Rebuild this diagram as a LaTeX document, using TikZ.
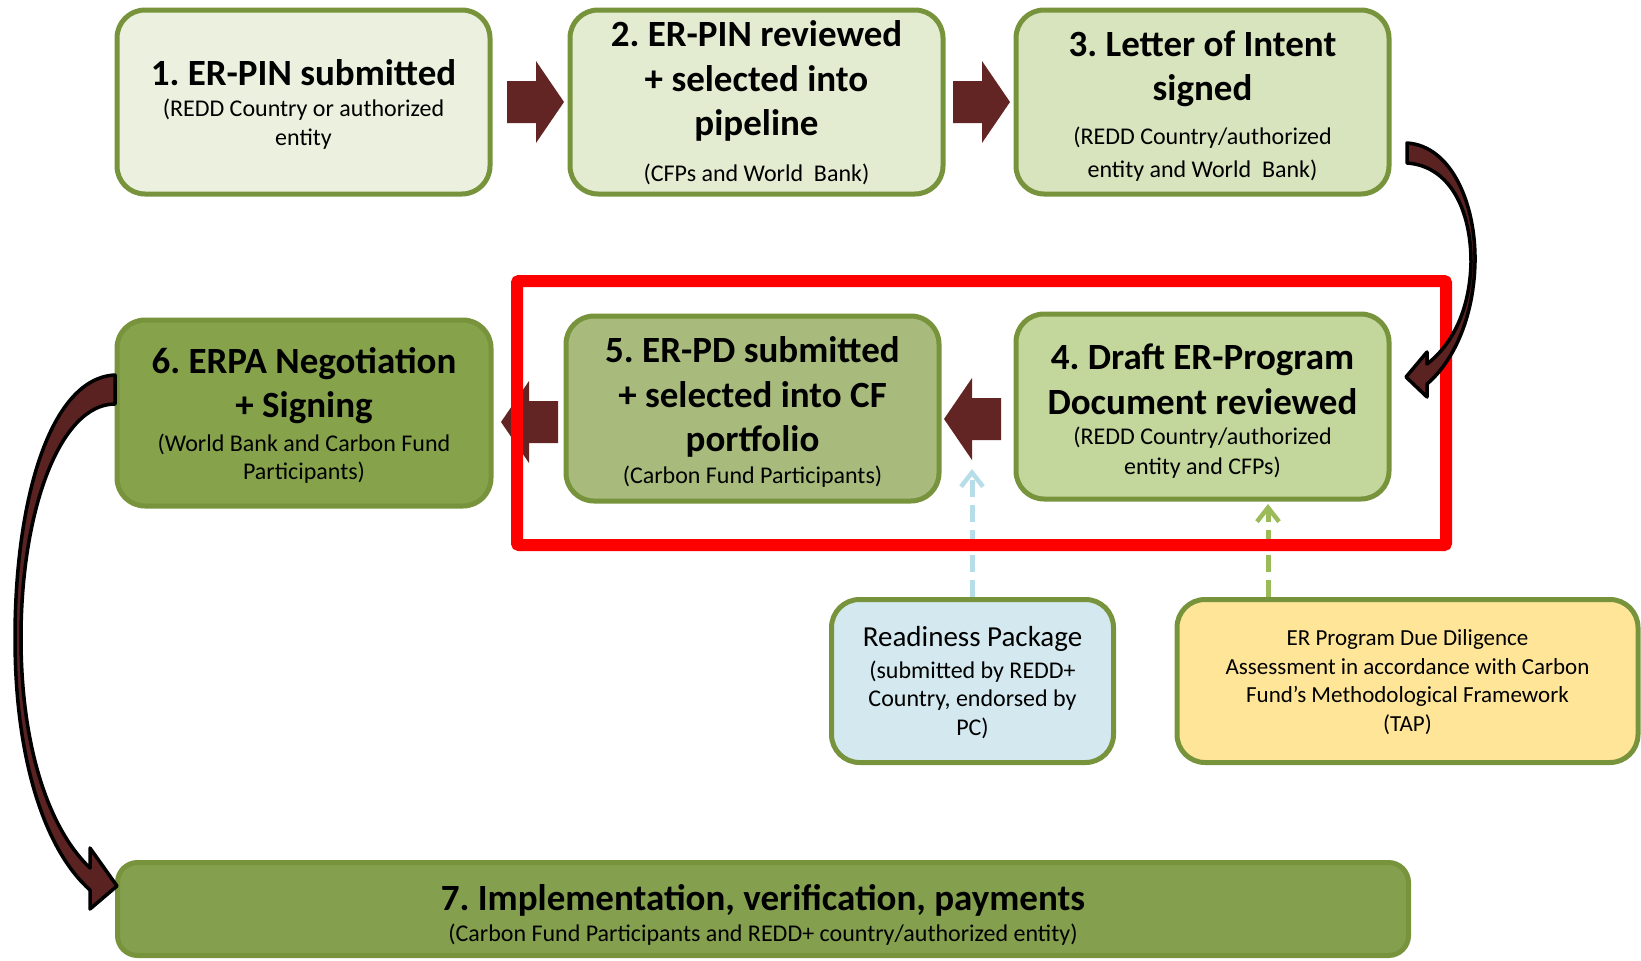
\documentclass[tikz,border=0pt]{standalone}
\usepackage{fontspec}
\setmainfont{Carlito}
\frenchspacing
\usetikzlibrary{arrows.meta}
\definecolor{bord}{HTML}{77933C}
\definecolor{cA}{HTML}{EBF1DE}
\definecolor{cB}{HTML}{E3EBD1}
\definecolor{cC}{HTML}{D7E4BD}
\definecolor{cD}{HTML}{C3D69B}
\definecolor{cE}{HTML}{A8BB7D}
\definecolor{cF}{HTML}{86A34C}
\definecolor{cG}{HTML}{849F4E}
\definecolor{rpfill}{HTML}{D3E9EF}
\definecolor{tapfill}{HTML}{FEE597}
\definecolor{abrown}{HTML}{632523}
\definecolor{cbrown}{HTML}{5A2220}
\definecolor{dblue}{HTML}{B7DDE8}
\definecolor{dgreen}{HTML}{9BBB59}
\tikzset{
  box/.style={draw=bord, line width=5pt, rounded corners=28pt, inner sep=0pt},
  ttl/.style={font=\fontsize{37}{44.5}\selectfont\bfseries, align=center, inner sep=0pt},
  sub/.style={font=\fontsize{24}{29}\selectfont, align=center, inner sep=0pt},
  blockR/.pic={\fill[abrown] (0,0) -- (-28,-41) -- (-28,-21) -- (-57,-21) -- (-57,21) -- (-28,21) -- (-28,41) -- cycle;},
  dashedarrow/.style={line width=5pt, dash pattern=on 17pt off 8pt, -{Straight Barb[length=14pt,width=22pt,line width=4.5pt]}},
  curvearrow/.style={fill=cbrown, draw=black, line width=3.5pt, line join=round},
}
\begin{document}
\begin{tikzpicture}[x=1pt,y=-1pt]
\useasboundingbox (0,0) rectangle (1641,961);

% boxes
\node[box, fill=cA, minimum width=373pt, minimum height=184pt] (b1) at (303.5,102) {};
\node[box, fill=cB, minimum width=373pt, minimum height=184pt] (b2) at (756.5,102) {};
\node[box, fill=cC, minimum width=373pt, minimum height=184pt] (b3) at (1202.5,102) {};
\node[box, fill=cD, minimum width=373pt, minimum height=185pt] (b4) at (1202.5,406.5) {};
\node[box, fill=cE, minimum width=373pt, minimum height=185pt] (b5) at (752.5,408.5) {};
\node[box, fill=cF, minimum width=374pt, minimum height=186pt] (b6) at (304,413) {};
\node[box, fill=cG, rounded corners=20pt, minimum width=1291pt, minimum height=93pt] (b7) at (763,909) {};
\node[box, fill=rpfill, minimum width=282pt, minimum height=163pt] (rp) at (972.5,681) {};
\node[box, fill=tapfill, minimum width=461pt, minimum height=163pt] (tap) at (1407.5,681) {};

% texts
\node[ttl] (t1) at (303.5,73) {1. ER-PIN submitted};
\node[sub] (s1) at (303.5,124.5) {(REDD Country or authorized\\entity};
\node[ttl] (t2) at (756.5,81) {2. ER-PIN reviewed\\+ selected into\\pipeline};
\node[sub] (s2) at (756.5,174) {(CFPs and World\ \ Bank)};
\node[ttl] (t3) at (1202.5,69) {3. Letter of Intent\\signed};
\node[sub, font=\fontsize{24}{33}\selectfont] (s3) at (1202.5,154) {(REDD Country/authorized\\entity and World\ \ Bank)};
\node[ttl] (t4) at (1202.5,379.5) {4. Draft ER-Program\\Document reviewed};
\node[sub, font=\fontsize{24}{30}\selectfont] (s4) at (1202.5,453) {(REDD Country/authorized\\entity and CFPs)};
\node[ttl] (t5) at (752.5,397) {5. ER-PD submitted\\+ selected into CF\\portfolio};
\node[sub] (s5) at (752.5,477) {(Carbon Fund Participants)};
\node[ttl] (t6) at (304,385.5) {6. ERPA Negotiation\\+ Signing};
\node[sub, font=\fontsize{24}{28}\selectfont] (s6) at (304,459) {(World Bank and Carbon Fund\\Participants)};
\node[ttl] (t7) at (763,900) {7. Implementation, verification, payments};
\node[sub] (s7) at (763,935) {(Carbon Fund Participants and REDD+ country/authorized entity)};
\node[sub, font=\fontsize{29}{34}\selectfont] (rpt) at (972.5,639) {Readiness Package};
\node[sub, font=\fontsize{24}{28.5}\selectfont] (rps) at (972.5,699.5) {(submitted by REDD+\\Country, endorsed by\\PC)};
\node[sub, font=\fontsize{23}{28.7}\selectfont] (tapt) at (1407.5,682) {ER Program Due Diligence\\Assessment in accordance with Carbon\\Fund’s Methodological Framework\\(TAP)};

% block arrows
\pic at (564,102) {blockR};
\pic at (1010,102) {blockR};
\pic[xscale=-1] at (944,419) {blockR};
\pic[xscale=-1] at (501,422) {blockR};

% dashed arrows
\coordinate (bTip) at (972,469);
\coordinate (gTip) at (1268,504);
\draw[dashedarrow, dblue] (rp.north -| bTip) -- (bTip);
\draw[dashedarrow, dgreen] (tap.north -| gTip) -- (gTip);

% red frame
\draw[red, line width=12pt, rounded corners=2pt] (517,281) rectangle (1446,545);

% curved arrows
\draw[curvearrow] (1407,143) .. controls (1452,146) and (1476,205) .. (1475,262)
  .. controls (1474,315) and (1455,360) .. (1427,384)
  -- (1427,397) -- (1406,377) -- (1427,352) -- (1427,364)
  .. controls (1452,345) and (1470,310) .. (1471,262)
  .. controls (1471,210) and (1450,166) .. (1407,163) -- cycle;
\draw[curvearrow] (115,375) .. controls (50,378) and (15,500) .. (15,638)
  .. controls (15,760) and (45,850) .. (90,890)
  -- (90,909) -- (117,886) -- (90,848) -- (90,868)
  .. controls (48,828) and (21,745) .. (21,638)
  .. controls (21,510) and (60,404) .. (115,404) -- cycle;
\end{tikzpicture}
\end{document}
